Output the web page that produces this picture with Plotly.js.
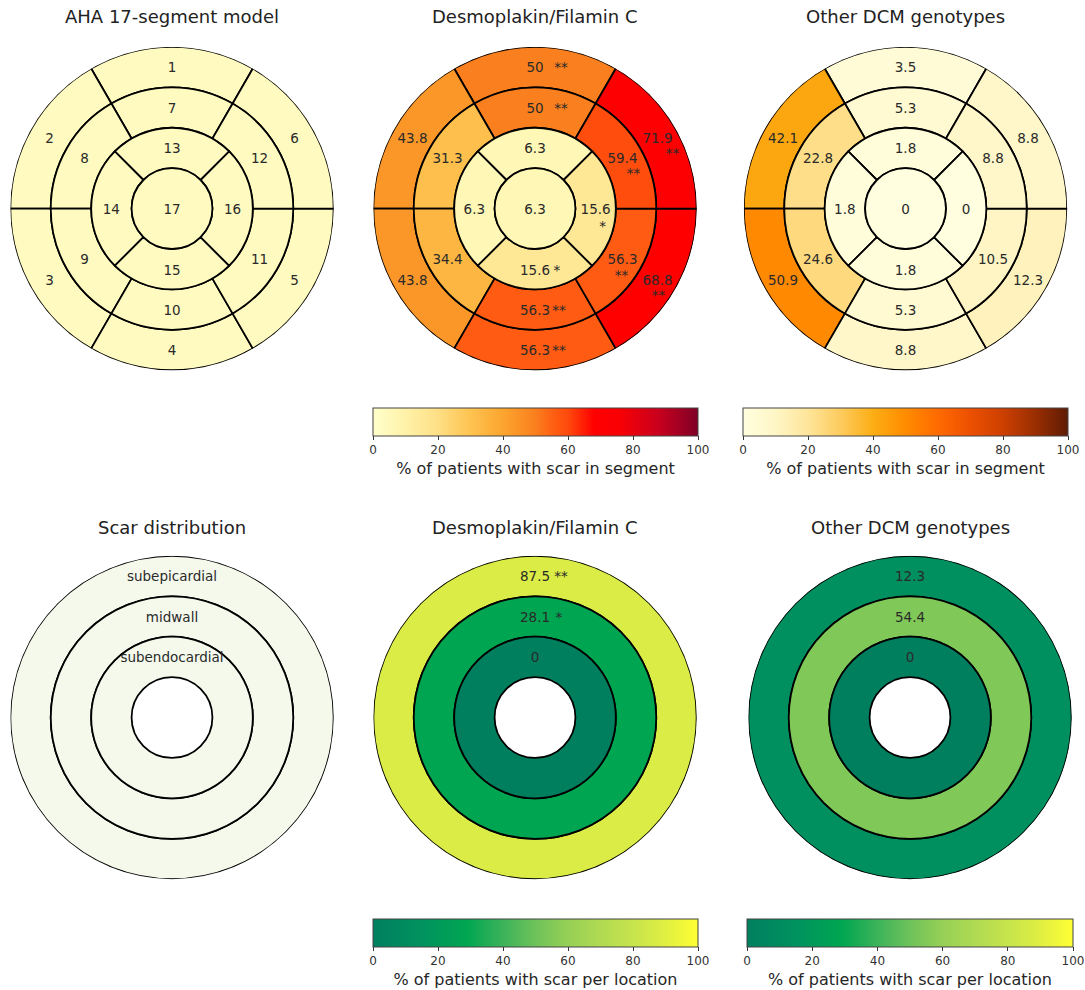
<!DOCTYPE html>
<html><head><meta charset="utf-8">
<script src="https://cdn.plot.ly/plotly-3.0.1.min.js"></script>
<style>html,body{margin:0;padding:0;background:#fff}</style>
</head><body><div id="chart" style="width:1085px;height:990px"></div>
<script>
// ---------------- DATA ----------------
const segments = [1,2,3,4,5,6,7,8,9,10,11,12,13,14,15,16,17];
const dspValues = [50,43.8,43.8,56.3,68.8,71.9,50,31.3,34.4,56.3,56.3,59.4,6.3,6.3,15.6,15.6,6.3];
const dspSig = ['**','','','**','**','**','**','','','**','**','**','','','*','*',''];
const otherValues = [3.5,42.1,50.9,8.8,12.3,8.8,5.3,22.8,24.6,5.3,10.5,8.8,1.8,1.8,1.8,0,0];
const locations = ['subepicardial','midwall','subendocardial'];
const dspLocValues = [87.5,28.1,0];
const dspLocSig = ['**','*',''];
const otherLocValues = [12.3,54.4,0];
const colorbarTicks = [0,20,40,60,80,100];
const titles = ['AHA 17-segment model','Desmoplakin/Filamin C','Other DCM genotypes',
                'Scar distribution','Desmoplakin/Filamin C','Other DCM genotypes'];
const cbTitleSegment = '% of patients with scar in segment';
const cbTitleLocation = '% of patients with scar per location';

// ---------------- STYLE / GEOMETRY ----------------
const W = 1085, H = 990, RPX = 162;
const FONT = 'DejaVu Sans';
const TXT = '#2a2a2a';
const TEXT_DY = 2; // px nudge down for all in-plot labels
const scaleDsp = [[0,'#FFFFCC'],[0.1,'#FFF2A8'],[0.2,'#FEDF86'],[0.3,'#FEC350'],[0.4,'#FCA52E'],
  [0.5,'#FA7F1E'],[0.56,'#FF5C12'],[0.6,'#FF4A0C'],[0.68,'#FF0000'],[0.76,'#F80005'],[0.88,'#C8001E'],[1,'#7F0026']];
const scaleOther = [[0,'#FFFEDE'],[0.1,'#FFF6C6'],[0.2,'#FEE59A'],[0.3,'#FDCB5E'],[0.4,'#FDAE14'],
  [0.5,'#FF8C00'],[0.6,'#FF6A00'],[0.7,'#EC5000'],[0.8,'#CC3F00'],[0.9,'#9A2E02'],[1,'#5E1B05']];
const scaleLoc = [[0,'#007F5F'],[0.15,'#00925F'],[0.29,'#00A651'],[0.4,'#3CB35A'],[0.5,'#6EC25A'],
  [0.6,'#96D056'],[0.7,'#B0DA52'],[0.8,'#C6E44C'],[0.9,'#E0EF42'],[1,'#FFFF33']];
const fillAHA = '#FEFAC0';
const fillLoc = '#F4F9EC';
// star label offsets (px) relative to the number label
const starOffsets = {1:[26,0],7:[26,0],6:[15,15],12:[11,15],16:[7,17],11:[-1,16],5:[1,15],15:[22,0],10:[24,0],4:[24,0]};
const locStarOffsets = {0:[26,0],1:[24,0]};

function segGeom(seg){
  if (seg <= 6) return {base:0.75, thick:0.25, theta:90+60*(seg-1), width:60};
  if (seg <= 12) return {base:0.5, thick:0.25, theta:90+60*(seg-7), width:60};
  if (seg <= 16) return {base:0.25, thick:0.25, theta:90+90*(seg-13), width:90};
  return {base:0, thick:0.25, theta:0, width:360};
}
function labelPos(seg){
  const g = segGeom(seg);
  return {r: seg===17 ? 0 : g.base + g.thick/2, theta: g.theta};
}
function offsetPolar(r, theta, dx, dy){
  const a = theta*Math.PI/180;
  const x = r*Math.cos(a) + dx/RPX, y = r*Math.sin(a) - dy/RPX;
  return {r: Math.hypot(x,y), theta: Math.atan2(y,x)*180/Math.PI};
}
function cbar(x0, x1, ytop, title){
  return {orientation:'h', x:(x0+x1)/2/W, xanchor:'center', y:1-ytop/H, yanchor:'top',
    len:x1-x0, lenmode:'pixels', thickness:28, thicknessmode:'pixels', xpad:0, ypad:0,
    outlinewidth:1, outlinecolor:'#444', ticks:'outside', ticklen:4, tickwidth:1, tickcolor:'#333',
    tickvals:colorbarTicks, tickfont:{family:FONT, size:12, color:'#333'},
    title:{text:title, side:'bottom', font:{family:FONT, size:16, color:'#262626'}}};
}
const lineStyle = {color:'#000', width:1.8};

const traces = [];
function segmentBars(sub, values, fill, scale, cb){
  const g = segments.map(segGeom);
  const marker = {line:lineStyle};
  if (values){
    Object.assign(marker, {color:values, colorscale:scale, cmin:0, cmax:100, showscale:true, colorbar:cb});
  } else marker.color = fill;
  traces.push({type:'barpolar', subplot:sub, r:g.map(d=>d.thick), base:g.map(d=>d.base),
    theta:g.map(d=>d.theta), width:g.map(d=>d.width), marker, hoverinfo:'skip', showlegend:false});
}
function textTrace(sub, pts, text){
  const q = pts.map(p=>offsetPolar(p.r, p.theta, p.dx||0, (p.dy||0)+TEXT_DY));
  traces.push({type:'scatterpolar', subplot:sub, mode:'text', r:q.map(d=>d.r), theta:q.map(d=>d.theta), text, cliponaxis:true,
    textposition:'middle center', textfont:{family:FONT, size:13.5, color:TXT}, hoverinfo:'skip', showlegend:false});
}
function segmentLabels(sub, labels, sig){
  const p = segments.map(labelPos);
  textTrace(sub, p, labels);
  if (sig){
    const pts=[], tx=[];
    segments.forEach((s,i)=>{ if (sig[i]){ const o = starOffsets[s]||[20,0];
      pts.push({r:p[i].r, theta:p[i].theta, dx:o[0], dy:o[1]}); tx.push(sig[i]); }});
    textTrace(sub, pts, tx);
  }
}
function locationBars(sub, values, fill, scale, cb){
  const bases = locations.map((_,k)=>0.75-0.25*k);
  const marker = {line:lineStyle};
  if (values){
    Object.assign(marker, {color:values, colorscale:scale, cmin:0, cmax:100, showscale:true, colorbar:cb});
  } else marker.color = fill;
  traces.push({type:'barpolar', subplot:sub, r:locations.map(()=>0.25), base:bases,
    theta:locations.map(()=>0), width:locations.map(()=>360), marker, hoverinfo:'skip', showlegend:false});
}
function locationLabels(sub, labels, sig){
  const p = locations.map((_,k)=>({r:0.875-0.25*k, theta:90}));
  textTrace(sub, p, labels);
  if (sig){
    const pts=[], tx=[];
    locations.forEach((_,k)=>{ if (sig[k]){ const o = locStarOffsets[k];
      pts.push({r:p[k].r, theta:90, dx:o[0], dy:o[1]}); tx.push(sig[k]); }});
    textTrace(sub, pts, tx);
  }
}

segmentBars('polar', null, fillAHA);
segmentLabels('polar', segments.map(String));
segmentBars('polar2', dspValues, null, scaleDsp, cbar(373,698,409,cbTitleSegment));
segmentLabels('polar2', dspValues.map(String), dspSig);
segmentBars('polar3', otherValues, null, scaleOther, cbar(743,1068,409,cbTitleSegment));
segmentLabels('polar3', otherValues.map(String));
locationBars('polar4', null, fillLoc);
locationLabels('polar4', locations);
locationBars('polar5', dspLocValues, null, scaleLoc, cbar(373,698,921,cbTitleLocation));
locationLabels('polar5', dspLocValues.map(String), dspLocSig);
locationBars('polar6', otherLocValues, null, scaleLoc, cbar(747,1073,921,cbTitleLocation));
locationLabels('polar6', otherLocValues.map(String));

function polar(x0,x1,y0,y1){
  return {domain:{x:[x0/W,x1/W], y:[1-y1/H,1-y0/H]}, bgcolor:'rgba(0,0,0,0)', barmode:'overlay',
    radialaxis:{visible:false, range:[0,1]}, angularaxis:{visible:false, rotation:0, direction:'counterclockwise'}};
}
const plotBoxes = [[10,334,47,371],[373,697,47,371],[743.5,1067.5,47,371],
                   [10,334,557,881],[373,697,557,881],[748,1072,557,881]];
const titlePos = [[172,17],[535,17],[905,17],[172,529],[535,529],[910,529]];
const layout = {width:W, height:H, margin:{l:0,r:0,t:0,b:0}, paper_bgcolor:'#fff', showlegend:false,
  font:{family:FONT, color:TXT},
  annotations: titles.map((t,i)=>({text:t, x:titlePos[i][0]/W, y:1-titlePos[i][1]/H, xref:'paper', yref:'paper',
    xanchor:'center', yanchor:'middle', showarrow:false, font:{family:FONT, size:18, color:'#222'}}))};
['polar','polar2','polar3','polar4','polar5','polar6'].forEach((k,i)=>{ const b=plotBoxes[i]; layout[k]=polar(b[0],b[1],b[2],b[3]); });
Plotly.newPlot('chart', traces, layout, {displayModeBar:false, staticPlot:true});
</script></body></html>
